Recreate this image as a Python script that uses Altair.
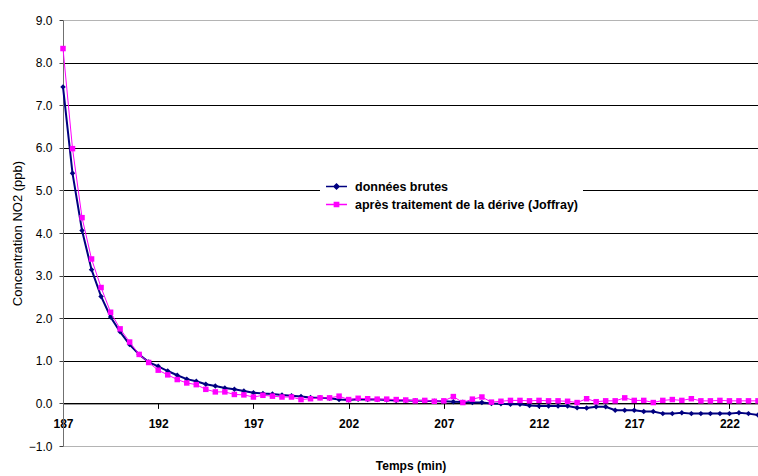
import altair as alt
import pandas as pd

# Time axis (minutes), one sample every 30 s
minutes = [
    187.0, 187.5, 188.0, 188.5, 189.0, 189.5, 190.0, 190.5, 191.0, 191.5,
    192.0, 192.5, 193.0, 193.5, 194.0, 194.5, 195.0, 195.5, 196.0, 196.5,
    197.0, 197.5, 198.0, 198.5, 199.0, 199.5, 200.0, 200.5, 201.0, 201.5,
    202.0, 202.5, 203.0, 203.5, 204.0, 204.5, 205.0, 205.5, 206.0, 206.5,
    207.0, 207.5, 208.0, 208.5, 209.0, 209.5, 210.0, 210.5, 211.0, 211.5,
    212.0, 212.5, 213.0, 213.5, 214.0, 214.5, 215.0, 215.5, 216.0, 216.5,
    217.0, 217.5, 218.0, 218.5, 219.0, 219.5, 220.0, 220.5, 221.0, 221.5,
    222.0, 222.5, 223.0, 223.5,
]

# NO2 concentration (ppb), raw signal
raw = [
    7.43, 5.40, 4.06, 3.14, 2.51, 2.03, 1.68, 1.38, 1.15, 0.97,
    0.87, 0.76, 0.66, 0.57, 0.52, 0.45, 0.41, 0.36, 0.33, 0.29,
    0.25, 0.23, 0.22, 0.20, 0.18, 0.16, 0.14, 0.13, 0.12, 0.09,
    0.08, 0.10, 0.09, 0.09, 0.08, 0.07, 0.07, 0.06, 0.06, 0.05,
    0.05, 0.04, 0.03, 0.02, 0.02, 0.00, -0.01, -0.02, -0.02, -0.05,
    -0.06, -0.06, -0.06, -0.06, -0.10, -0.11, -0.08, -0.08, -0.16, -0.16,
    -0.16, -0.19, -0.19, -0.24, -0.24, -0.22, -0.24, -0.24, -0.24, -0.24,
    -0.24, -0.22, -0.24, -0.27,
]

# NO2 concentration (ppb) after drift correction
corrected = [
    8.33, 5.98, 4.36, 3.39, 2.72, 2.14, 1.75, 1.44, 1.15, 0.96,
    0.78, 0.67, 0.56, 0.48, 0.44, 0.33, 0.27, 0.27, 0.21, 0.20,
    0.15, 0.19, 0.17, 0.15, 0.15, 0.09, 0.11, 0.13, 0.13, 0.17,
    0.09, 0.12, 0.11, 0.10, 0.10, 0.09, 0.08, 0.06, 0.07, 0.05,
    0.06, 0.16, 0.02, 0.10, 0.15, 0.03, 0.05, 0.07, 0.07, 0.06,
    0.07, 0.06, 0.06, 0.05, 0.02, 0.11, 0.04, 0.06, 0.06, 0.13,
    0.07, 0.07, 0.02, 0.07, 0.09, 0.07, 0.11, 0.06, 0.06, 0.07,
    0.06, 0.06, 0.06, 0.06,
]

series_names = ["données brutes", "après traitement de la dérive (Joffray)"]
series_colors = ["#000080", "#FF00FF"]
# legend glyphs: a short line segment carrying the series marker
legend_glyphs = [
    "M-1,0L1,0M0,-0.24L0.24,0L0,0.24L-0.24,0Z",
    "M-1,0L1,0M-0.2,-0.2L0.2,-0.2L0.2,0.2L-0.2,0.2Z",
]
x_ticks = [187, 192, 197, 202, 207, 212, 217, 222]
y_ticks = [-1, 0, 1, 2, 3, 4, 5, 6, 7, 8, 9]

df = pd.concat(
    [
        pd.DataFrame({"t": minutes, "v": raw, "serie": series_names[0]}),
        pd.DataFrame({"t": minutes, "v": corrected, "serie": series_names[1]}),
    ],
    ignore_index=True,
)

FONT = "Liberation Sans"
W, H = 695, 426


def make_legend():
    return alt.Legend(
        title=None,
        orient="none",
        legendX=257,
        legendY=150,
        fillColor="white",
        padding=5,
        symbolSize=440,
        symbolStrokeWidth=1.5,
        labelFont=FONT,
        labelFontSize=12.5,
        labelFontWeight="bold",
        labelColor="black",
        labelLimit=400,
        labelOffset=7,
        rowPadding=0,
    )


color = alt.Color(
    "serie:N",
    scale=alt.Scale(domain=series_names, range=series_colors),
    legend=make_legend(),
)
stroke = alt.Stroke(
    "serie:N",
    scale=alt.Scale(domain=series_names, range=series_colors),
    legend=make_legend(),
)
shape = alt.Shape(
    "serie:N",
    scale=alt.Scale(domain=series_names, range=legend_glyphs),
    legend=make_legend(),
)

x = alt.X(
    "t:Q",
    scale=alt.Scale(domain=[187, 223.5], nice=False, zero=False),
    axis=alt.Axis(
        title="Temps (min)",
        values=x_ticks,
        format="d",
        grid=False,
        offset=-42.6,
        domainColor="black",
        tickColor="black",
        tickSize=5,
        labelPadding=10,
        labelFont=FONT,
        labelFontSize=12,
        labelFontWeight="bold",
        labelColor="black",
        labelFlush=False,
        titleFont=FONT,
        titleFontSize=12,
        titleFontWeight="bold",
        titleColor="black",
        titleY=57,
    ),
)

y = alt.Y(
    "v:Q",
    scale=alt.Scale(domain=[-1, 9], nice=False),
    axis=alt.Axis(
        title="Concentration NO2 (ppb)",
        values=y_ticks,
        format=".1f",
        grid=True,
        gridColor={
            "expr": "(datum.value == 9 || datum.value == -1) ? '#b4b4b4' : 'black'"
        },
        gridWidth=1,
        domainColor="#707070",
        tickColor="#404040",
        tickSize=4,
        labelPadding=7,
        labelFont=FONT,
        labelFontSize=12,
        labelColor="black",
        titleFont=FONT,
        titleFontSize=13,
        titleFontWeight="normal",
        titleColor="black",
        titleX=-46,
        titleBaseline="middle",
    ),
)


def series_layers(name, width, mark_shape, size):
    sub = alt.Chart(df).transform_filter(alt.datum.serie == name)
    line = sub.mark_line(strokeWidth=width).encode(x=x, y=y, color=color)
    pts = sub.mark_point(filled=True, shape=mark_shape, size=size, opacity=1).encode(
        x=x, y=y, color=color
    )
    return [line, pts]


# empty layer that only carries the legend glyphs
legend_layer = (
    alt.Chart(df)
    .transform_filter("false")
    .mark_point(filled=True, opacity=1)
    .encode(x=x, y=y, color=color, stroke=stroke, shape=shape)
)

layers = (
    series_layers(series_names[0], 2, "diamond", 30)
    + series_layers(series_names[1], 1, "square", 30)
    + [legend_layer]
)

chart = (
    alt.layer(*layers)
    .properties(
        width=W,
        height=H,
        autosize="none",
        padding={"left": 63, "top": 20, "right": 0, "bottom": 30},
        background="white",
    )
    .configure_view(strokeWidth=0)
)

chart.save("out.html", embed_options={"renderer": "svg", "actions": False})
